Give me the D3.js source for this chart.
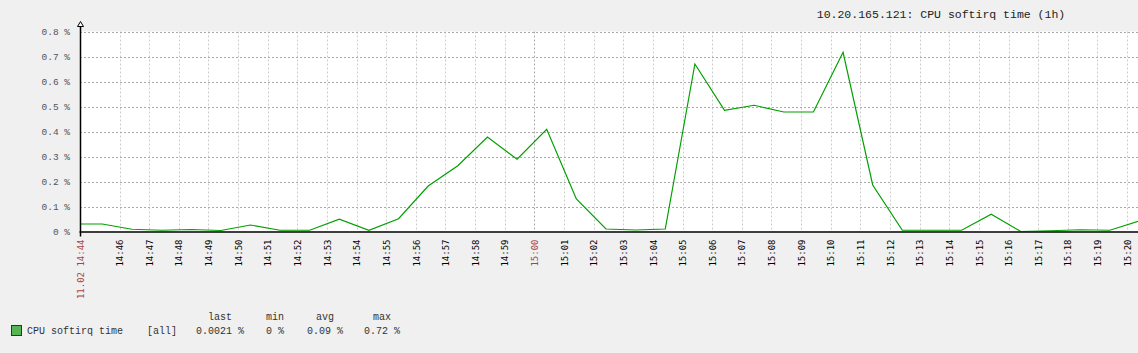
<!DOCTYPE html>
<html>
<head>
<meta charset="utf-8">
<script src="https://cdn.jsdelivr.net/npm/d3@7"></script>
<style>
    body { margin: 0; background: #f0f0f0; }
    #softirq-chart svg { display: block; }
</style>
</head>
<body>
<div id="softirq-chart"></div>
<script>

// sample times (one value per minute, hh:mm:25)
var sampleTimes = ["14:44:25", "14:45:25", "14:46:25", "14:47:25", "14:48:25", "14:49:25",
    "14:50:25", "14:51:25", "14:52:25", "14:53:25", "14:54:25", "14:55:25", "14:56:25",
    "14:57:25", "14:58:25", "14:59:25", "15:00:25", "15:01:25", "15:02:25", "15:03:25",
    "15:04:25", "15:05:25", "15:06:25", "15:07:25", "15:08:25", "15:09:25", "15:10:25",
    "15:11:25", "15:12:25", "15:13:25", "15:14:25", "15:15:25", "15:16:25", "15:17:25",
    "15:18:25", "15:19:25", "15:20:25"];

// CPU softirq time, percent
var softirqValues = [0.03, 0.03, 0.009, 0.005, 0.008, 0.004,
    0.026, 0.005, 0.005, 0.049, 0.005, 0.051, 0.182,
    0.263, 0.378, 0.289, 0.409, 0.13, 0.01, 0.006,
    0.01, 0.67, 0.485, 0.505, 0.478, 0.478, 0.717,
    0.186, 0.005, 0.005, 0.005, 0.069, 0.0, 0.003,
    0.007, 0.005, 0.042];

var yTickValues = [0, 0.1, 0.2, 0.3, 0.4, 0.5, 0.6, 0.7, 0.8];
var yTickLabels = ["0 %", "0.1 %", "0.2 %", "0.3 %", "0.4 %", "0.5 %", "0.6 %", "0.7 %", "0.8 %"];

var periodStart = "14:44:40";
var periodEnd = "15:44:40";
var startLabel = "11.02 14:44";

var graphTitle = "10.20.165.121: CPU softirq time (1h)";
var legendHeaders = ["last", "min", "avg", "max"];
var legendItem = {name: "CPU softirq time", func: "[all]"};
var legendStats = ["0.0021 %", "0 %", "0.09 %", "0.72 %"];

var parseTime = d3.timeParse("%Y-%m-%d %H:%M:%S");
function toDate(t) {
    return parseTime("2017-11-02 " + t);
}

/**
 * Zabbix-like graph of a single item
 */
function SoftirqGraph() {
    var self = this;
    self.init();
}

SoftirqGraph.prototype.init = function () {
    var self = this;
    self.width = 1138;
    self.height = 353;
    // the full 1h graph is wider than the window, the right part is cut off
    self.plot = {left: 80, top: 31.5, bottom: 231.5, right: 1858};

    self.svg = d3.select("#softirq-chart").append("svg")
        .attr("width", self.width)
        .attr("height", self.height);

    self.svg.append("rect")
        .attr("width", self.width)
        .attr("height", self.height)
        .attr("fill", "#f0f0f0");
};

SoftirqGraph.prototype.update = function () {
    var self = this;
    var svg = self.svg;
    var p = self.plot;

    var xScale = d3.scaleTime()
        .domain([toDate(periodStart), toDate(periodEnd)])
        .range([p.left, p.right]);
    var yScale = d3.scaleLinear()
        .domain([0, 0.8])
        .range([p.bottom, p.top]);

    // white plot area
    svg.append("rect")
        .attr("x", p.left)
        .attr("y", p.top)
        .attr("width", p.right - p.left)
        .attr("height", p.bottom - p.top)
        .attr("fill", "#ffffff");

    // minute grid, first label is skipped because it's too close to the start
    //only keep the ticks that are inside the visible part
    var minuteTicks = d3.timeMinute.range(d3.timeMinute.offset(d3.timeMinute.ceil(toDate(periodStart)), 1), toDate(periodEnd))
        .filter(function (d) { return xScale(d) < self.width - 5; });

    svg.append("g").selectAll("line")
        .data(minuteTicks)
        .enter()
        .append("line")
        .attr("x1", function (d) { return Math.round(xScale(d)) + 0.5; })
        .attr("x2", function (d) { return Math.round(xScale(d)) + 0.5; })
        .attr("y1", p.top)
        .attr("y2", p.bottom)
        .attr("stroke", function (d) { return d.getMinutes() == 0 ? "#aaaaaa" : "#cccccc"; })
        .attr("stroke-width", 1)
        .attr("stroke-dasharray", "2,2");

    svg.append("g").selectAll("line")
        .data(yTickValues.filter(function (d) { return d > 0; }))
        .enter()
        .append("line")
        .attr("x1", p.left)
        .attr("x2", self.width)
        .attr("y1", function (d) { return Math.round(yScale(d)) + 0.5; })
        .attr("y2", function (d) { return Math.round(yScale(d)) + 0.5; })
        .attr("stroke", "#aaaaaa")
        .attr("stroke-width", 1)
        .attr("stroke-dasharray", "2,2");

    // the data line
    var points = sampleTimes.map(function (t, i) {
        return {time: toDate(t), value: softirqValues[i]};
    });

    svg.append("clipPath")
        .attr("id", "plot-clip")
        .append("rect")
        .attr("x", p.left)
        .attr("y", p.top - 5)
        .attr("width", p.right - p.left)
        .attr("height", p.bottom - p.top + 5);

    var line = d3.line()
        .x(function (d) { return xScale(d.time); })
        .y(function (d) { return yScale(d.value); });

    svg.append("path")
        .datum(points)
        .attr("clip-path", "url(#plot-clip)")
        .attr("d", line)
        .attr("fill", "none")
        .attr("stroke", "#00a000")
        .attr("stroke-width", 1.2);

    // axes
    svg.append("line")
        .attr("x1", p.left - 0.5)
        .attr("x2", self.width)
        .attr("y1", p.bottom + 0.5)
        .attr("y2", p.bottom + 0.5)
        .attr("stroke", "#000")
        .attr("stroke-width", 1.5);

    svg.append("line")
        .attr("x1", p.left + 0.5)
        .attr("x2", p.left + 0.5)
        .attr("y1", p.top - 5)
        .attr("y2", p.bottom + 5)
        .attr("stroke", "#000")
        .attr("stroke-width", 1.5);

    // hollow arrow on top of the y axis
    svg.append("path")
        .attr("d", "M" + (p.left - 2.5) + "," + (p.top - 5) + "L" + (p.left + 0.5) + "," + (p.top - 10) +
            "L" + (p.left + 3.5) + "," + (p.top - 5) + "Z")
        .attr("fill", "#fff")
        .attr("stroke", "#000")
        .attr("stroke-width", 1);

    // y labels
    svg.append("g").selectAll("text")
        .data(yTickValues)
        .enter()
        .append("text")
        .attr("x", 70)
        .attr("y", function (d) { return yScale(d); })
        .attr("dy", "0.35em")
        .attr("text-anchor", "end")
        .attr("font-family", "Liberation Mono, monospace")
        .attr("font-size", "9.5px")
        .attr("fill", "#555")
        .text(function (d, i) { return yTickLabels[i]; });

    // x labels, rotated
    var timeFormat = d3.timeFormat("%H:%M");
    var xLabels = [{date: toDate(periodStart), text: startLabel, main: true}].concat(
        minuteTicks.map(function (d) {
            return {date: d, text: timeFormat(d), main: d.getMinutes() == 0};
        }));

    svg.append("g").selectAll("text")
        .data(xLabels)
        .enter()
        .append("text")
        .attr("transform", function (d) {
            return "translate(" + (xScale(d.date) + 0.5) + "," + (p.bottom + 8) + ") rotate(-90)";
        })
        .attr("dy", "0.35em")
        .attr("text-anchor", "end")
        .attr("font-family", "DejaVu Sans Mono, monospace")
        .attr("font-size", "9px")
        .attr("fill", function (d) { return d.main ? "#aa4444" : "#000"; })
        .text(function (d) { return d.text; });

    // title, centred on the full graph width
    svg.append("text")
        .attr("x", 941)
        .attr("y", 18)
        .attr("text-anchor", "middle")
        .attr("font-family", "Liberation Mono, monospace")
        .attr("font-size", "11.5px")
        .attr("fill", "#222")
        .text(graphTitle);

    // legend
    var legendX = [220, 275, 325, 382];
    var legend = svg.append("g")
        .attr("font-family", "Liberation Mono, monospace")
        .attr("font-size", "10px")
        .attr("fill", "#333");

    legend.selectAll("text.header")
        .data(legendHeaders)
        .enter()
        .append("text")
        .attr("class", "header")
        .attr("x", function (d, i) { return legendX[i]; })
        .attr("y", 320)
        .attr("text-anchor", "middle")
        .text(function (d) { return d; });

    legend.append("rect")
        .attr("x", 11.5)
        .attr("y", 325.5)
        .attr("width", 10)
        .attr("height", 10)
        .attr("fill", "#55b555")
        .attr("stroke", "#333")
        .attr("stroke-width", 1);

    legend.append("text")
        .attr("x", 27)
        .attr("y", 334)
        .text(legendItem.name);

    legend.append("text")
        .attr("x", 147)
        .attr("y", 334)
        .text(legendItem.func);

    legend.selectAll("text.stat")
        .data(legendStats)
        .enter()
        .append("text")
        .attr("class", "stat")
        .attr("x", function (d, i) { return legendX[i]; })
        .attr("y", 334)
        .attr("text-anchor", "middle")
        .text(function (d) { return d; });
};

var graph = new SoftirqGraph();
graph.update();

</script>
</body>
</html>
